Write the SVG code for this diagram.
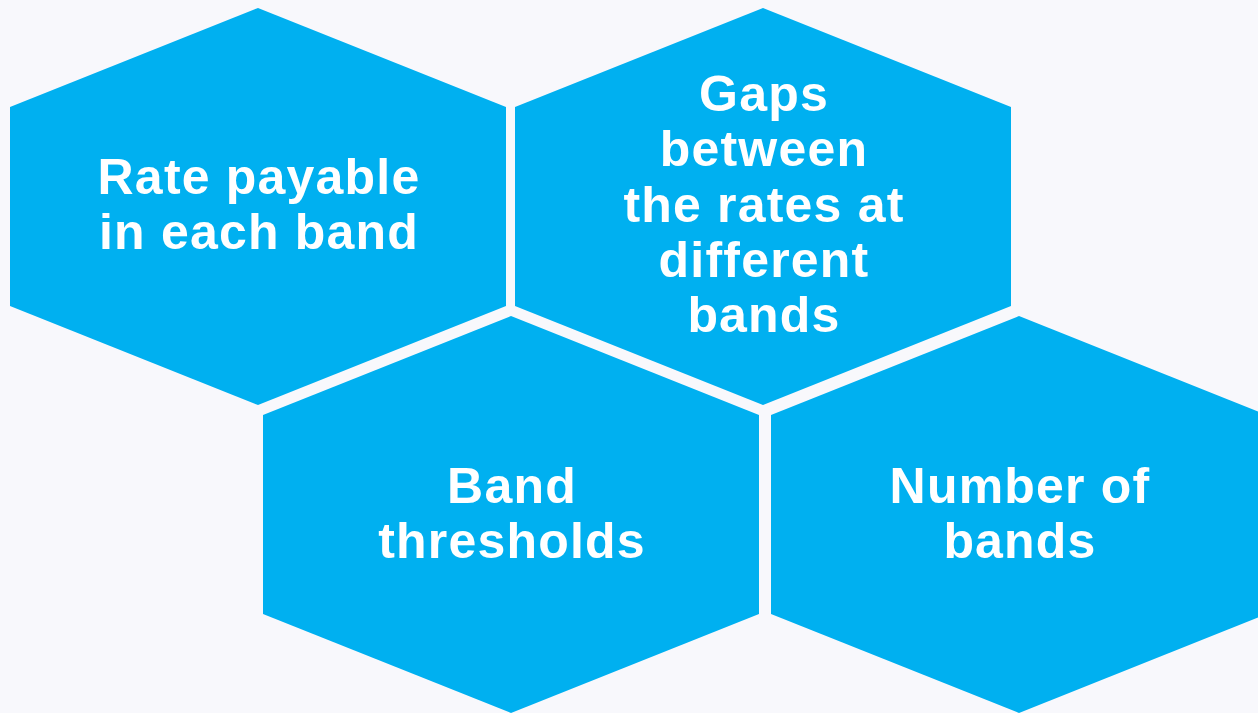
<svg xmlns="http://www.w3.org/2000/svg" width="1258" height="713" viewBox="0 0 1258 713">
<style>
.hex{fill:#00B0F0;}
.t{font-family:"Liberation Sans",Arial,sans-serif;font-weight:bold;font-size:50px;fill:#FFFFFF;text-anchor:middle;letter-spacing:1.2px;}
</style>
<rect width="1258" height="713" fill="#F8F8FC"/>
<g id="hex-rate">
<polygon class="hex" points="258,8 506,107 506,306 258,405 10,306 10,107"/>
<text class="t" x="259" y="194">Rate payable</text>
<text class="t" x="259" y="249">in each band</text>
</g>
<g id="hex-gaps">
<polygon class="hex" points="763,8 1011,107 1011,306 763,405 515,306 515,107"/>
<text class="t" x="764" y="111">Gaps</text>
<text class="t" x="764" y="166">between</text>
<text class="t" x="764" y="222">the rates at</text>
<text class="t" x="764" y="277">different</text>
<text class="t" x="764" y="332">bands</text>
</g>
<g id="hex-thresholds">
<polygon class="hex" points="511,316 759,415 759,614 511,713 263,614 263,415"/>
<text class="t" x="512" y="503">Band</text>
<text class="t" x="512" y="558">thresholds</text>
</g>
<g id="hex-number">
<polygon class="hex" points="1019,316 1267,415 1267,614 1019,713 771,614 771,415"/>
<text class="t" x="1020" y="503">Number of</text>
<text class="t" x="1020" y="558">bands</text>
</g>
<g id="connectors"></g>
</svg>
